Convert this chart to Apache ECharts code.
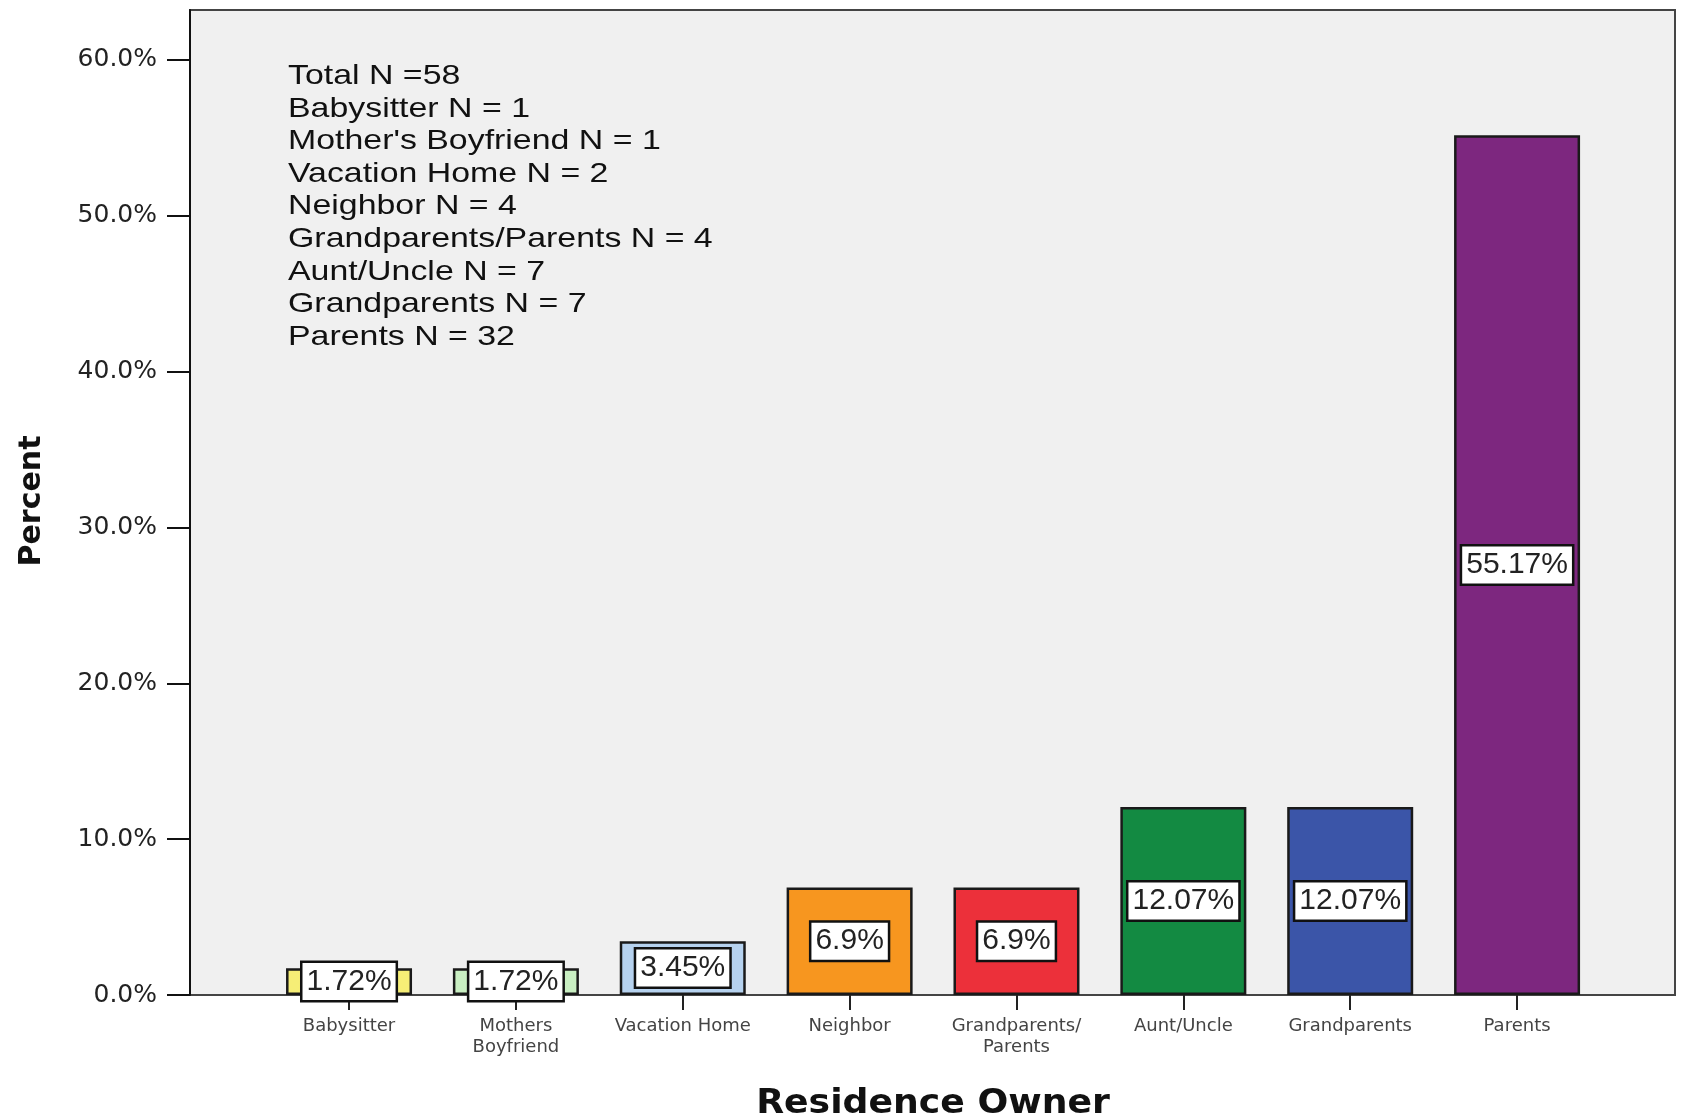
<!DOCTYPE html>
<html>
<head>
<meta charset="utf-8">
<script src="https://cdn.jsdelivr.net/npm/echarts@6/dist/echarts.min.js"></script>
<style>
html,body{margin:0;padding:0;background:#fff;}
#chart{width:1682px;height:1120px;}
</style>
</head>
<body>
<div id="chart"></div>
<script>
// ---- data ----
const categories = ['Babysitter', 'Mothers\nBoyfriend', 'Vacation Home', 'Neighbor', 'Grandparents/\nParents', 'Aunt/Uncle', 'Grandparents', 'Parents'];
const percents = [1.72, 1.72, 3.45, 6.9, 6.9, 12.07, 12.07, 55.17];
const yTicks = [0, 10, 20, 30, 40, 50, 60];
const noteLines = [
  'Total N =58',
  'Babysitter N = 1',
  "Mother's Boyfriend N = 1",
  'Vacation Home N = 2',
  'Neighbor N = 4',
  'Grandparents/Parents N = 4',
  'Aunt/Uncle N = 7',
  'Grandparents N = 7',
  'Parents N = 32'
];
// ---- styles ----
const barColors = ['#f6ee76', '#c9efc2', '#b6d2ef', '#f7961f', '#ec303a', '#138a42', '#3b55a8', '#7d277f'];

const chart = echarts.init(document.getElementById('chart'));
const yMax = 63.2;
const option = {
  backgroundColor: '#ffffff',
  animation: false,
  grid: [
    { left: 190, top: 10, width: 1485, height: 985, show: true, backgroundColor: '#f0f0f0', borderColor: '#444', borderWidth: 2, containLabel: false },
    { left: 265.6, top: 10, width: 1334.9, height: 985, containLabel: false }
  ],
  xAxis: [
    { gridIndex: 0, type: 'value', min: 0, max: 1, show: false },
    {
      gridIndex: 1, type: 'category', data: categories,
      axisLine: { show: false },
      axisTick: { show: true, alignWithLabel: true, length: 15, lineStyle: { color: '#222', width: 2 } },
      axisLabel: { interval: 0, margin: 21, fontFamily: 'DejaVu Sans', fontSize: 18, lineHeight: 21, color: '#444' }
    }
  ],
  yAxis: [
    {
      gridIndex: 0, type: 'value', min: 0, max: yMax, interval: 10,
      axisLine: { show: true, lineStyle: { color: '#111', width: 2 } },
      axisTick: { show: true, length: 23, lineStyle: { color: '#111', width: 2 },
        customValues: yTicks },
      axisLabel: { margin: 33, fontFamily: 'DejaVu Sans', fontSize: 25, color: '#222',
        customValues: yTicks,
        formatter: v => v.toFixed(1) + '%' },
      splitLine: { show: false }
    },
    { gridIndex: 1, type: 'value', min: 0, max: yMax, show: false, splitLine: { show: false } }
  ],
  series: [{
    type: 'bar',
    xAxisIndex: 1, yAxisIndex: 1,
    barWidth: 126,
    data: percents.map((v, i) => ({ value: v, itemStyle: { color: barColors[i] } })),
    itemStyle: { borderColor: '#1a1a1a', borderWidth: 2.5 },
    label: {
      show: true, position: 'inside',
      formatter: p => p.value + '%',
      fontFamily: 'Liberation Sans', fontSize: 30, lineHeight: 30, color: '#222',
      backgroundColor: '#ffffff', borderColor: '#111', borderWidth: 2.5,
      padding: [4, 4, 3, 4]
    }
  }],
  graphic: [
    {
      type: 'text', x: 288, y: 60, scaleX: 1.21,
      style: { text: noteLines.join('\n'), fontFamily: 'Liberation Sans', fontSize: 28, lineHeight: 32.6, fill: '#111', verticalAlign: 'top', align: 'left' }
    },
    {
      type: 'text', x: 32, y: 501, rotation: Math.PI / 2,
      style: { text: 'Percent', fontFamily: 'DejaVu Sans', fontWeight: 'bold', fontSize: 30, fill: '#111', align: 'center', verticalAlign: 'middle' }
    },
    {
      type: 'text', x: 933, y: 1104, scaleX: 1.065,
      style: { text: 'Residence Owner', fontFamily: 'DejaVu Sans', fontWeight: 'bold', fontSize: 34, fill: '#111', align: 'center', verticalAlign: 'middle' }
    }
  ]
};
chart.setOption(option);
</script>
</body>
</html>
